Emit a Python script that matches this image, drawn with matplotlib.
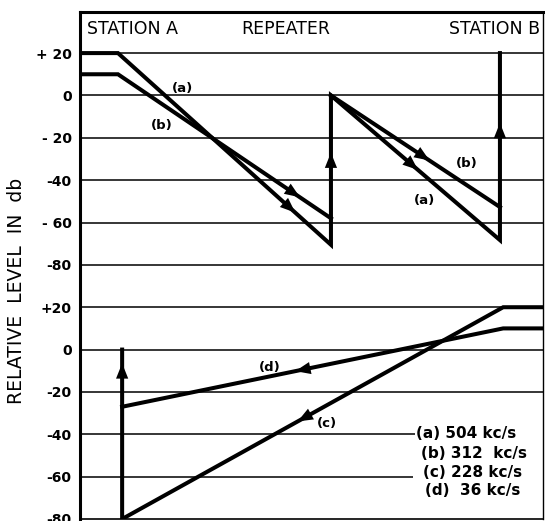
import numpy as np
import matplotlib.pyplot as plt

# positions along the route (0..100 across the frame)
stn_a_up = 8.2
rep_up = 54.2
stn_b_up = 90.7
stn_a_lo = 9.1
stn_b_lo = 91.4

# upper panel: A -> B direction, levels in db
a_x = [0, stn_a_up, rep_up, rep_up, stn_b_up, stn_b_up]
a_y = [20, 20, -70.5, 0, -68.3, 20]
b1_x = [0, stn_a_up, rep_up]
b1_y = [10, 10, -58]
b2_x = [rep_up, stn_b_up]
b2_y = [0, -52.7]

# lower panel: B -> A direction, levels in db
c_x = [100, stn_b_lo, stn_a_lo, stn_a_lo]
c_y = [20, 20, -80, 0]
d_x = [100, stn_b_lo, stn_a_lo]
d_y = [10, 10, -27]

lower_offset = -120   # lower panel sits 120 db below upper one on the same axis

tick_vals = [20, 0, -20, -40, -60, -80, -100, -120, -140, -160, -180, -200]
tick_text = ['+ 20', '0', '- 20', '-40', '- 60', '-80',
             '+20', '0', '-20', '-40', '-60', '-80']

legend_lines = ['(a) 504 kc/s', '(b) 312  kc/s', '(c) 228 kc/s', '(d)  36 kc/s']

fig = plt.figure(figsize=(5.45, 5.21), dpi=100)
ax = fig.add_axes([80 / 545, 2 / 521, 463 / 545, 507 / 521])
ax.set_xlim(0, 100)
ax.set_ylim(-200, 39.4)

lw = 2.9
# gridlines
for v in [20, 0, -20, -40, -60, -80, -100, -120, -140]:
    ax.axhline(v, color='black', lw=1.1, zorder=1)
ax.hlines([-160, -180], 0, [72.4, 71.9], color='black', lw=1.1, zorder=1)

ax.plot(a_x, a_y, color='black', lw=lw, solid_joinstyle='miter')
ax.plot(b1_x, b1_y, color='black', lw=lw, solid_joinstyle='miter')
ax.plot(b2_x, b2_y, color='black', lw=lw, solid_joinstyle='miter')
ax.plot(c_x, np.array(c_y) + lower_offset, color='black', lw=lw, solid_joinstyle='miter')
ax.plot(d_x, np.array(d_y) + lower_offset, color='black', lw=lw, solid_joinstyle='miter')

head = '-|>,head_length=0.55,head_width=0.22'


def arrow_on(xs, ys, x_tip, back):
    # arrow head sitting on a straight segment
    y_tip = np.interp(x_tip, xs, ys)
    x_tail = x_tip - back
    y_tail = np.interp(x_tail, xs, ys)
    ax.annotate('', xy=(x_tip, y_tip), xytext=(x_tail, y_tail),
                arrowprops=dict(arrowstyle=head, color='black', lw=0,
                                mutation_scale=20, shrinkA=0, shrinkB=0))


# arrows on sloping lines
arrow_on([stn_a_up, rep_up], [20, -70.5], 46.5, 2.5)
arrow_on([stn_a_up, rep_up], [10, -58], 47.5, 2.5)
arrow_on([rep_up, stn_b_up], [0, -68.3], 73.0, 2.5)
arrow_on([rep_up, stn_b_up], [0, -52.7], 75.5, 2.5)
arrow_on([stn_a_lo, stn_b_lo], [-80 + lower_offset, 20 + lower_offset], 47.0, -2.5)
arrow_on([stn_a_lo, stn_b_lo], [-27 + lower_offset, 10 + lower_offset], 46.5, -2.5)

# arrows on vertical jumps
for xv, y_tip in [(rep_up, -27), (stn_b_up, -13), (stn_a_lo, -6.5 + lower_offset)]:
    ax.annotate('', xy=(xv, y_tip), xytext=(xv, y_tip - 6),
                arrowprops=dict(arrowstyle=head, color='black', lw=0,
                                mutation_scale=20, shrinkA=0, shrinkB=0))

# curve labels
lab_kw = dict(fontsize=9.5, fontweight='bold', ha='center', va='center')
ax.text(22.2, 3.5, '(a)', **lab_kw)
ax.text(17.7, -14, '(b)', **lab_kw)
ax.text(83.6, -32, '(b)', **lab_kw)
ax.text(74.5, -49.4, '(a)', **lab_kw)
ax.text(41.0, -128.3, '(d)', **lab_kw)
ax.text(53.3, -154.7, '(c)', **lab_kw)

# header
ax.text(1.5, 31.5, 'STATION A', fontsize=12.5, ha='left', va='center')
ax.text(44.5, 31.5, 'REPEATER', fontsize=12.5, ha='center', va='center')
ax.text(99.3, 31.5, 'STATION B', fontsize=12.5, ha='right', va='center')

# frequency key
key_x = [72.5, 73.6, 74.1, 74.5]
key_y = [-159.5, -169, -178, -186.5]
for kx, ky, s in zip(key_x, key_y, legend_lines):
    ax.text(kx, ky, s, fontsize=11, fontweight='bold', ha='left', va='center')

ax.set_yticks(tick_vals)
ax.set_yticklabels(tick_text, fontsize=10, fontweight='bold')
ax.tick_params(axis='y', length=0, pad=6)
ax.set_xticks([])

for side in ['left', 'top']:
    ax.spines[side].set_linewidth(2.2)
ax.spines['right'].set_linewidth(1.0)
ax.spines['bottom'].set_linewidth(1.2)

fig.text(17 / 545, 1 - 291 / 521, 'RELATIVE  LEVEL  IN  db', rotation=90,
         fontsize=13.5, ha='center', va='center')

plt.savefig('out.png', dpi=100)
